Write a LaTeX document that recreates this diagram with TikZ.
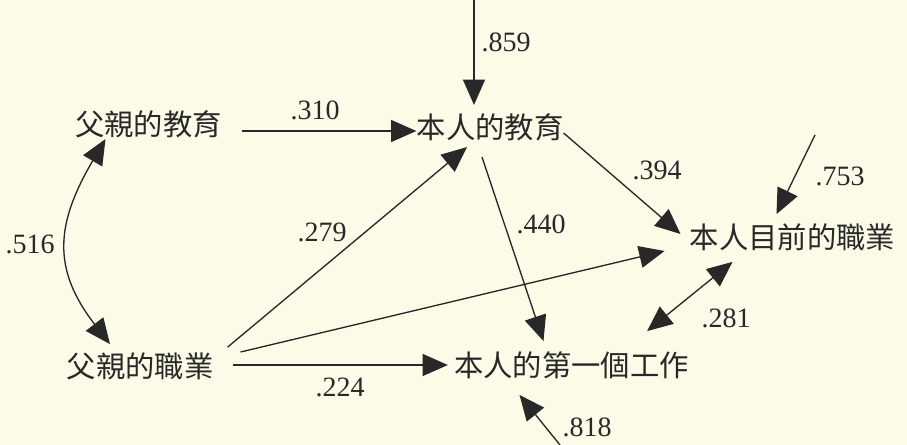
\documentclass[tikz,border=0pt]{standalone}
\usepackage{fontspec}
\setmainfont{Liberation Serif}
\newfontfamily\cjk{Noto Sans CJK TC}
\usetikzlibrary{arrows.meta}

\definecolor{paper}{RGB}{251,251,231}
\definecolor{ink}{RGB}{40,40,40}

\tikzset{
  varbox/.style={inner sep=0pt, text=ink, font=\cjk\fontsize{22}{26}\selectfont},
  coef/.style={inner sep=0pt, text=ink, font=\fontsize{21}{25}\selectfont},
  effect/.style={draw=ink, line width=1pt, -{Triangle[length=19pt,width=16.5pt]}},
  corr/.style={draw=ink, line width=1pt, {Triangle[length=19pt,width=16.5pt]}-{Triangle[length=19pt,width=16.5pt]}},
}

\begin{document}
\begin{tikzpicture}[x=0.75pt,y=0.75pt,yscale=-1,xscale=1]
%set diagram area, 907 by 445
\fill [paper] (0,0) rectangle (907,445);
\useasboundingbox (0,0) rectangle (907,445);

% Text Node
\node [varbox] (feduc) at (148.5,124) {父親的教育};
% Text Node
\node [varbox] (seduc) at (490,127) {本人的教育};
% Text Node
\node [varbox] (socc) at (792.5,237) {本人目前的職業};
% Text Node
\node [varbox] (focc) at (140,366) {父親的職業};
% Text Node
\node [varbox] (sjob) at (571.5,365) {本人的第一個工作};

%Residual ends
\coordinate (edtop) at (474,0);
\coordinate (occtop) at (815,135);
\coordinate (jobbot) at (560,445);

%Straight Lines
\draw [effect] ([shift={(20,7)}]feduc.east) -- ([shift={(0,4)}]seduc.west);
%Straight Lines
\draw [effect] (edtop) -- ([shift={(-16,-8)}]seduc.north);
%Straight Lines
\draw [effect] ([shift={(0,6)}]seduc.east) -- ([shift={(-9,-3)}]socc.west);
%Straight Lines
\draw [effect] (occtop) -- ([shift={(-16,-9)}]socc.north);
%Straight Lines
\draw [effect] ([shift={(-8,16)}]seduc.south) -- ([shift={(-28,-10)}]sjob.north);
%Straight Lines
\draw [effect] ([shift={(14,-5)}]focc.north east) -- ([shift={(-23,6)}]seduc.south);
%Straight Lines
\draw [effect] ([shift={(27,-14)}]focc.east) -- ([shift={(-25,14)}]socc.west);
%Straight Lines
\draw [effect] ([shift={(19,-1)}]focc.east) -- ([shift={(-6,0)}]sjob.west);
%Straight Lines
\draw [effect] (jobbot) -- ([shift={(-52,16)}]sjob.south);
%Curve Lines
\draw [corr] ([shift={(-43,1)}]feduc.south) .. controls +(-50,85) and +(-58,-75) .. ([shift={(-30,-8)}]focc.north);
%Straight Lines
\draw [corr] ([shift={(-60,11)}]socc.south) -- ([shift={(-42,-20)}]sjob.north east);

% Text Node
\node [coef] (c310) at (315,110) {.310};
% Text Node
\node [coef] (c859) at (506,42) {.859};
% Text Node
\node [coef] (c394) at (657,170) {.394};
% Text Node
\node [coef] (c753) at (840,176) {.753};
% Text Node
\node [coef] (c440) at (541,224) {.440};
% Text Node
\node [coef] (c279) at (322,232) {.279};
% Text Node
\node [coef] (c224) at (340,387) {.224};
% Text Node
\node [coef] (c516) at (30,244) {.516};
% Text Node
\node [coef] (c281) at (726,318) {.281};
% Text Node
\node [coef] (c818) at (587,427) {.818};

\end{tikzpicture}
\end{document}
